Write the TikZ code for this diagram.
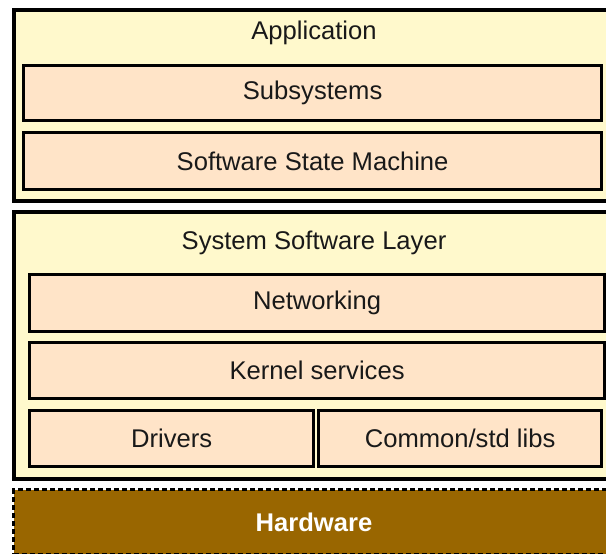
\documentclass[tikz,border=0pt]{standalone}
\usepackage{fontspec}
\setmainfont{Liberation Sans}
\definecolor{layerfill}{HTML}{FFF9CC}
\definecolor{blockfill}{HTML}{FFE4C8}
\definecolor{hwfill}{HTML}{996600}
\begin{document}
\begin{tikzpicture}[x=1pt,y=-1pt,font=\fontsize{25.6}{30}\selectfont,
    layer/.style={draw,line width=3.6pt,fill=layerfill,anchor=north west,inner sep=0pt},
    block/.style={draw,line width=3.2pt,fill=blockfill,anchor=north west,inner sep=0pt,text=black!90}]
                    \useasboundingbox (0,0) rectangle (606,554);
                    \clip (0,0) rectangle (606,554);
                    \node[layer,minimum width=604pt,minimum height=191pt] (app) at (12,8) {};
                    \node[text=black!90] (apptitle) at (314,33) {Application};
                    \node[block,minimum width=578pt,minimum height=55pt] (sub) at (22,64) {Subsystems};
                    \node[block,minimum width=578pt,minimum height=57pt] (ssm) at (22,131) {Software State Machine};
                    \node[layer,minimum width=604pt,minimum height=267pt] (sys) at (12,210) {};
                    \node[text=black!90] (systitle) at (314,243) {System Software Layer};
                    \node[block,minimum width=575pt,minimum height=57pt] (net) at (28,273) {Networking};
                    \node[block,minimum width=575pt,minimum height=56pt] (kern) at (28,341) {Kernel services};
                    \node[block,minimum width=284pt,minimum height=56pt] (drv) at (28,409) {Drivers};
                    \node[block,minimum width=283pt,minimum height=56pt] (libs) at (317,409) {Common/std libs};
                    \node[draw,line width=3pt,dash pattern=on 5pt off 3pt,fill=hwfill,anchor=north west,
                        minimum width=604pt,minimum height=65pt,inner sep=0pt] (hw) at (12,488) {};
                    \node[text=white,font=\fontsize{25.6}{30}\selectfont\bfseries] (hwtitle) at (314,522) {Hardware};
                \end{tikzpicture}
\end{document}
